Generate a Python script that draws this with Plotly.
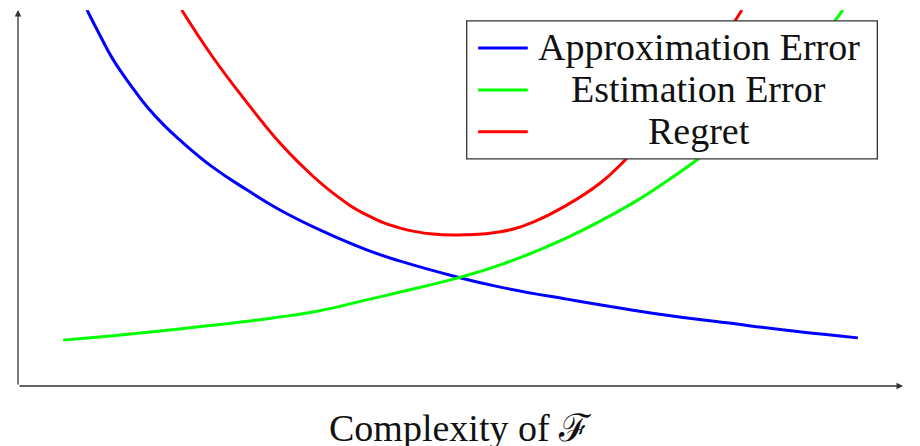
import plotly.graph_objects as go

# ---- data (arbitrary units, axes span 0..10) ----
approx_x = [0.78, 0.93, 1.07, 1.27, 1.46, 1.66, 1.83, 2.20, 2.59, 2.96, 3.41, 3.94, 4.32, 4.96, 5.45, 6.20, 7.25, 8.01, 8.76, 9.49]
approx_y = [10.0, 9.31, 8.70, 8.01, 7.42, 6.91, 6.54, 5.82, 5.21, 4.68, 4.15, 3.62, 3.32, 2.90, 2.63, 2.31, 1.91, 1.68, 1.46, 1.28]

est_x = [0.51, 1.38, 2.14, 2.88, 3.38, 3.94, 4.32, 4.96, 5.45, 6.20, 6.95, 7.25, 7.67, 8.16, 8.72, 9.23, 9.32]
est_y = [1.22, 1.41, 1.60, 1.81, 1.99, 2.29, 2.50, 2.87, 3.22, 3.94, 4.87, 5.32, 6.01, 6.94, 8.27, 9.71, 10.0]

regret_x = [1.85, 2.20, 2.59, 2.96, 3.19, 3.56, 3.94, 4.32, 4.69, 5.03, 5.45, 5.82, 6.20, 6.58, 6.84, 7.25, 7.71, 8.08, 8.18]
regret_y = [10.0, 8.75, 7.53, 6.46, 5.90, 5.13, 4.55, 4.20, 4.04, 4.02, 4.10, 4.36, 4.81, 5.40, 5.96, 7.05, 8.32, 9.63, 10.0]

series_names = ["Approximation Error", "Estimation Error", "Regret"]
series_colors = ["#0000ff", "#00ff00", "#ff0000"]
x_label = "Complexity of ℱ"

SERIF = "Liberation Serif, Times New Roman, DejaVu Serif, serif"
AXIS_COLOR = "#333333"

fig = go.Figure()
for (xs, ys), name, col in zip([(approx_x, approx_y), (est_x, est_y), (regret_x, regret_y)],
                               series_names, series_colors):
    fig.add_trace(go.Scatter(x=xs, y=ys, mode="lines", name=name,
                             line=dict(color=col, width=3, shape="spline", smoothing=1.3),
                             showlegend=False, hoverinfo="skip"))

# axes with arrows
fig.add_annotation(x=10, y=0, ax=0, ay=0, xref="x", yref="y", axref="x", ayref="y",
                   text="", showarrow=True, arrowhead=2, arrowsize=1, arrowwidth=1.3,
                   arrowcolor=AXIS_COLOR)
fig.add_annotation(x=0, y=10, ax=0, ay=0, xref="x", yref="y", axref="x", ayref="y",
                   text="", showarrow=True, arrowhead=2, arrowsize=1, arrowwidth=1.3,
                   arrowcolor=AXIS_COLOR)

# legend box (centered entries as in the reference)
fig.add_shape(type="rect", xref="paper", yref="paper", x0=0.507, x1=0.971, y0=0.604, y1=0.971,
              fillcolor="white", line=dict(color=AXIS_COLOR, width=1.3), layer="above")
row_y = [0.902, 0.790, 0.679]
for name, col, ry in zip(series_names, series_colors, row_y):
    fig.add_shape(type="line", xref="paper", yref="paper", x0=0.520, x1=0.576,
                  y0=ry - 0.003, y1=ry - 0.003,
                  line=dict(color=col, width=3), layer="above")
    fig.add_annotation(x=0.769, y=ry, xref="paper", yref="paper", text=name, showarrow=False,
                       xanchor="center", yanchor="middle",
                       font=dict(family=SERIF, size=38, color="#111111"))

# x-axis label
fig.add_annotation(x=0.5, y=-0.112, xref="paper", yref="paper", text=x_label, showarrow=False,
                   xanchor="center", yanchor="middle",
                   font=dict(family=SERIF, size=38, color="#111111"))

fig.update_xaxes(range=[0, 10], showgrid=False, zeroline=False, showticklabels=False,
                 ticks="", showline=False, fixedrange=True)
fig.update_yaxes(range=[0, 10], showgrid=False, zeroline=False, showticklabels=False,
                 ticks="", showline=False, fixedrange=True)
fig.update_layout(width=920, height=446, margin=dict(l=18, r=17, t=10, b=60),
                  paper_bgcolor="white", plot_bgcolor="white", showlegend=False)

fig.write_html("out.html")
